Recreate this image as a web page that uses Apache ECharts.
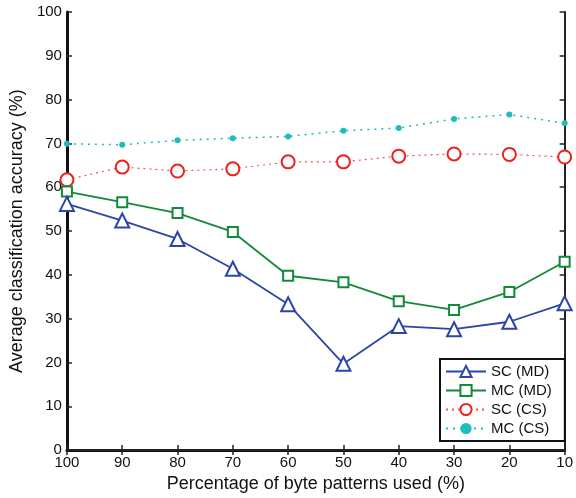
<!DOCTYPE html>
<html>
<head>
<meta charset="utf-8">
<script src="https://cdn.jsdelivr.net/npm/echarts@6/dist/echarts.min.js"></script>
<style>
  html, body { margin: 0; padding: 0; background: #fff; }
  #chart { width: 576px; height: 498px; }
</style>
</head>
<body>
<div id="chart"></div>
<script>
var percentages = ['100', '90', '80', '70', '60', '50', '40', '30', '20', '10'];
var scMD = [56.2, 52.4, 48.2, 41.4, 33.3, 19.7, 28.3, 27.6, 29.3, 33.5];
var mcMD = [59.0, 56.6, 54.1, 49.8, 39.8, 38.3, 34.0, 32.0, 36.1, 43.0];
var scCS = [61.7, 64.6, 63.7, 64.2, 65.8, 65.8, 67.1, 67.6, 67.5, 66.9];
var mcCS = [69.9, 69.7, 70.7, 71.2, 71.6, 72.9, 73.5, 75.6, 76.6, 74.6];
var yTicks = [0, 10, 20, 30, 40, 50, 60, 70, 80, 90, 100];

var fontFam = 'Liberation Sans, Arial, sans-serif';
var chart = echarts.init(document.getElementById('chart'));

var tickInside = {show: true, inside: true, length: 5, lineStyle: {color: '#222', width: 1.5}};

chart.setOption({
    backgroundColor: '#fff',
    animation: false,
    grid: {left: 63, right: 8, top: 12, bottom: 44},
    legend: {
        orient: 'vertical',
        left: 440,
        top: 359,
        width: 125,
        padding: [5, 13, 5, 5],
        itemGap: 4,
        itemWidth: 40,
        itemHeight: 14,
        borderColor: '#111',
        borderWidth: 2,
        backgroundColor: '#fff',
        textStyle: {fontFamily: fontFam, fontSize: 15, color: '#111'},
        data: ['SC (MD)', 'MC (MD)', 'SC (CS)', 'MC (CS)']
    },
    xAxis: [{
        type: 'category',
        data: percentages,
        boundaryGap: false,
        name: 'Percentage of byte patterns used (%)',
        nameLocation: 'middle',
        nameGap: 22,
        nameTextStyle: {fontFamily: fontFam, fontSize: 18, color: '#111'},
        axisLine: {lineStyle: {color: '#111', width: 3}},
        axisTick: tickInside,
        axisLabel: {fontFamily: fontFam, fontSize: 15, color: '#111', margin: 5},
        splitLine: {show: false}
    }, {
        type: 'category',
        data: percentages,
        boundaryGap: false,
        position: 'top',
        axisLine: {lineStyle: {color: '#222', width: 2}},
        axisTick: tickInside,
        axisLabel: {show: false},
        splitLine: {show: false}
    }],
    yAxis: [{
        type: 'value',
        min: yTicks[0],
        max: yTicks[yTicks.length - 1],
        interval: 10,
        name: 'Average classification accuracy (%)',
        nameLocation: 'middle',
        nameGap: 36,
        nameTextStyle: {fontFamily: fontFam, fontSize: 18, color: '#111'},
        axisLine: {show: true, lineStyle: {color: '#111', width: 3}},
        axisTick: tickInside,
        axisLabel: {fontFamily: fontFam, fontSize: 15, color: '#111', margin: 5},
        splitLine: {show: false}
    }, {
        type: 'value',
        min: yTicks[0],
        max: yTicks[yTicks.length - 1],
        interval: 10,
        position: 'right',
        axisLine: {show: true, lineStyle: {color: '#222', width: 2}},
        axisTick: tickInside,
        axisLabel: {show: false},
        splitLine: {show: false}
    }],
    series: [{
        name: 'MC (CS)',
        type: 'line',
        data: mcCS,
        symbol: 'circle',
        symbolSize: 6,
        itemStyle: {color: '#1fbcbc'},
        lineStyle: {color: '#1fbcbc', width: 1.5, type: [2, 5]},
        z: 2
    }, {
        name: 'SC (CS)',
        type: 'line',
        data: scCS,
        symbol: 'emptyCircle',
        symbolSize: 13,
        itemStyle: {color: '#ee2020', borderWidth: 2},
        lineStyle: {color: '#f05050', width: 1.2, type: [2, 4]},
        z: 3
    }, {
        name: 'MC (MD)',
        type: 'line',
        data: mcMD,
        symbol: 'emptyRect',
        symbolSize: 10,
        itemStyle: {color: '#128a3a', borderWidth: 1.8},
        lineStyle: {color: '#128a3a', width: 1.8},
        z: 4
    }, {
        name: 'SC (MD)',
        type: 'line',
        data: scMD,
        symbol: 'emptyTriangle',
        symbolSize: 14,
        itemStyle: {color: '#2b46a6', borderWidth: 1.8},
        lineStyle: {color: '#2b46a6', width: 1.8},
        z: 5
    }]
});
</script>
</body>
</html>
